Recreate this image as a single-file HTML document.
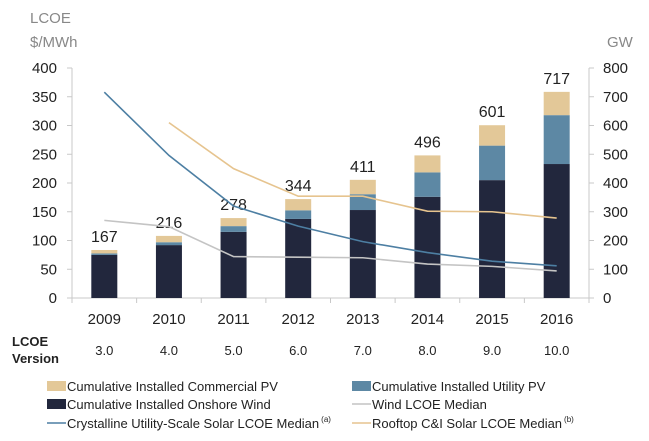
<!DOCTYPE html>
<html><head><meta charset="utf-8"><style>
body{margin:0;background:#fff;font-family:"Liberation Sans",sans-serif;}
svg text{font-family:"Liberation Sans",sans-serif;}
</style></head><body>
<svg id="chart" width="649" height="436" xmlns="http://www.w3.org/2000/svg">
<g id="axes"></g><g id="bars"></g><g id="lines"></g><g id="legend"></g>
</svg>
<script>
const years=["2009","2010","2011","2012","2013","2014","2015","2016"];
const versions=["3.0","4.0","5.0","6.0","7.0","8.0","9.0","10.0"];
const windGW=[150,184,230,275,306,352,410,466];
const utilityGW=[5,10,20,30,55,85,120,170];
const commercialGW=[12,22,28,39,50,59,71,81];
const totalLabels=["167","216","278","344","411","496","601","717"];
const solarLCOE=[358,248,160,125,98,79,64,56];
const windLCOE=[135,124,72,71,70,59,55,47];
const rooftopLCOE=[null,305,225,177,177,151,150,139];
const leftTicks=[0,50,100,150,200,250,300,350,400];
const rightTicks=[0,100,200,300,400,500,600,700,800];

const NS="http://www.w3.org/2000/svg";
const X0=72,X1=589,Y0=298,YT=68;
const step=(X1-X0)/years.length;
const xc=i=>X0+step*(i+0.5);
const yL=v=>Y0-(Y0-YT)*v/400;
const yR=v=>Y0-(Y0-YT)*v/800;
function mk(tag,attrs,parent,text){const e=document.createElementNS(NS,tag);for(const k in attrs)e.setAttribute(k,attrs[k]);if(text!==undefined)e.textContent=text;parent.appendChild(e);return e;}
const axes=document.getElementById('axes'),bars=document.getElementById('bars'),lines=document.getElementById('lines'),legend=document.getElementById('legend');

let e;
e=mk('line',{x1:X0,y1:YT,x2:X0,y2:Y0,stroke:'#c8c8c8'},axes);

e=mk('line',{x1:X1,y1:YT,x2:X1,y2:Y0,stroke:'#c8c8c8'},axes);

e=mk('line',{x1:X0,y1:Y0,x2:X1,y2:Y0,stroke:'#c8c8c8'},axes);

leftTicks.forEach(v=>{
  mk('line',{x1:X0-5,y1:yL(v),x2:X0,y2:yL(v),stroke:'#c8c8c8'},axes);
  e=mk('text',{x:57,y:yL(v)+5,'text-anchor':'end','font-size':15,fill:'#222'},axes,String(v));
  
});
rightTicks.forEach(v=>{
  mk('line',{x1:X1,y1:yR(v),x2:X1+5,y2:yR(v),stroke:'#c8c8c8'},axes);
  e=mk('text',{x:603,y:yR(v)+5,'font-size':15,fill:'#222'},axes,String(v));
  
});
for(let i=0;i<=years.length;i++) mk('line',{x1:X0+step*i,y1:Y0,x2:X0+step*i,y2:Y0+5,stroke:'#c8c8c8'},axes);
years.forEach((y,i)=>{
  e=mk('text',{x:xc(i),y:324,'text-anchor':'middle','font-size':15,fill:'#222'},axes,y);
  
  e=mk('text',{x:xc(i),y:355,'text-anchor':'middle','font-size':13,fill:'#222'},axes,versions[i]);
  
});
e=mk('text',{x:12,y:346,'font-size':13,'font-weight':'bold',fill:'#222'},axes,'LCOE');

mk('text',{x:12,y:363,'font-size':13,'font-weight':'bold',fill:'#222'},axes,'Version');
e=mk('text',{x:30,y:23,'font-size':15,fill:'#888'},axes,'LCOE');

mk('text',{x:30,y:47,'font-size':15,fill:'#888'},axes,'$/MWh');
e=mk('text',{x:607,y:47,'font-size':15,fill:'#888'},axes,'GW');


const bw=26;
years.forEach((y,i)=>{
  let base=0;
  [[windGW,'#22273d','bar-wind'],[utilityGW,'#5d88a4','bar-utility-pv'],[commercialGW,'#e3c898','bar-commercial-pv']].forEach(([arr,c,n])=>{
    const r=mk('rect',{x:xc(i)-bw/2,y:yR(base+arr[i]),width:bw,height:yR(base)-yR(base+arr[i]),fill:c},bars);
    
    
    base+=arr[i];
  });
  const t=mk('text',{x:xc(i),y:yR(base)-8,'text-anchor':'middle','font-size':16,fill:'#222'},bars,totalLabels[i]);
  
  
});

function line(arr,color,name){
  const pts=[];arr.forEach((v,i)=>{if(v!==null)pts.push(xc(i)+','+yL(v));});
  const p=mk('polyline',{points:pts.join(' '),fill:'none',stroke:color,'stroke-width':1.6},lines);
  
  
}
line(windLCOE,'#c4c4c4','wind-lcoe-line');
line(rooftopLCOE,'#e6c48f','rooftop-solar-lcoe-line');
line(solarLCOE,'#4d7fa3','utility-solar-lcoe-line');

const leg=[
 [47,386,'rect','#e3c898','Cumulative Installed Commercial PV','','legend-commercial-pv'],
 [352,386,'rect','#5d88a4','Cumulative Installed Utility PV','','legend-utility-pv'],
 [47,404,'rect','#22273d','Cumulative Installed Onshore Wind','','legend-onshore-wind'],
 [352,404,'line','#c4c4c4','Wind LCOE Median','','legend-wind-lcoe'],
 [47,423,'line','#4d7fa3','Crystalline Utility-Scale Solar LCOE Median','(a)','legend-utility-solar-lcoe'],
 [352,423,'line','#e6c48f','Rooftop C&I Solar LCOE Median','(b)','legend-rooftop-solar-lcoe']];
leg.forEach(([x,y,k,c,t,sup,n])=>{
  const g=mk('g',{},legend);
  
  
  if(k==='rect') mk('rect',{x:x,y:y-5,width:19,height:10,fill:c},g);
  else mk('line',{x1:x,y1:y,x2:x+19,y2:y,stroke:c,'stroke-width':1.6},g);
  const tx=mk('text',{x:x+20,y:y+5,'font-size':13,fill:'#222'},g,t);
  if(sup) mk('tspan',{dx:2,dy:-6,'font-size':8},tx,sup);
});
</script>
</body></html>
